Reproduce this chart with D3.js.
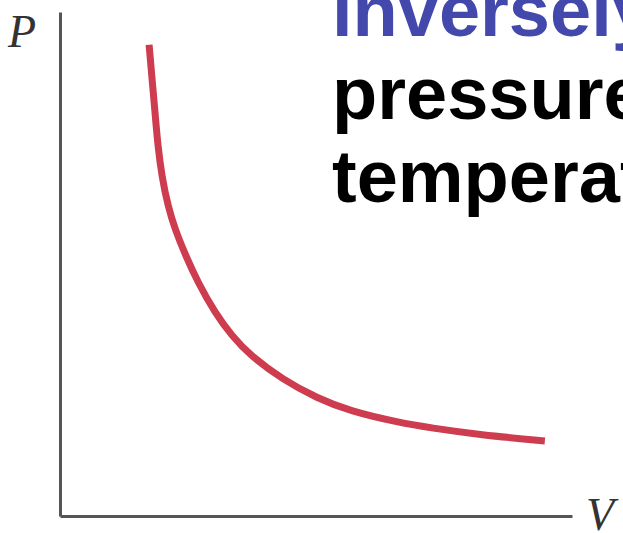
<!DOCTYPE html>
<html>
<head>
<meta charset="utf-8">
<script src="https://cdn.jsdelivr.net/npm/d3@7"></script>
<style>
  html, body { margin: 0; padding: 0; background: #fff; overflow: hidden; }
  svg { display: block; }
</style>
</head>
<body>
<svg width="623" height="533"></svg>
<script>
// curve (arbitrary V and P units)
var volume   = [1.74, 1.80, 1.86, 1.91, 1.99, 2.11, 2.25, 2.44, 2.70, 3.03, 3.36, 3.71, 4.36, 5.02, 5.66, 6.64, 7.23, 8.20, 9.47];
var pressure = [9.35, 8.65, 7.96, 7.36, 6.73, 6.14, 5.68, 5.20, 4.62, 4.03, 3.57, 3.19, 2.70, 2.34, 2.08, 1.85, 1.75, 1.61, 1.49];
var headingLines = ["inversely proportional to", "pressure at constant", "temperature"];
var headingColors = ["#4349ac", "#000", "#000"];

var svg = d3.select("svg"),
    width = +svg.attr("width"),
    height = +svg.attr("height");

var x = d3.scaleLinear().domain([0, 10]).range([60, 572]);
var y = d3.scaleLinear().domain([0, 10]).range([516, 12]);

var points = volume.map(function (v, i) { return [v, pressure[i]]; });

// axes, no ticks, just the lines
svg.append("g")
    .attr("transform", "translate(" + x(0) + ",0)")
    .call(d3.axisLeft(y).ticks(0).tickSizeOuter(0))
    .select(".domain")
    .attr("stroke", "#555")
    .attr("stroke-width", 3);

svg.append("g")
    .attr("transform", "translate(0," + y(0) + ")")
    .call(d3.axisBottom(x).ticks(0).tickSizeOuter(0))
    .select(".domain")
    .attr("stroke", "#555")
    .attr("stroke-width", 3);

svg.append("text")
    .attr("x", 8)
    .attr("y", 47)
    .attr("font-family", "Liberation Serif, serif")
    .attr("font-style", "italic")
    .attr("font-size", 46)
    .attr("fill", "#333")
    .text("P");

svg.append("text")
    .attr("x", 586)
    .attr("y", 530)
    .attr("font-family", "Liberation Serif, serif")
    .attr("font-style", "italic")
    .attr("font-size", 46)
    .attr("fill", "#333")
    .text("V");

var line = d3.line()
    .x(function (d) { return x(d[0]); })
    .y(function (d) { return y(d[1]); })
    .curve(d3.curveBasis);

svg.append("path")
    .datum(points)
    .attr("d", line)
    .attr("fill", "none")
    .attr("stroke", "#cd3c4f")
    .attr("stroke-width", 7);

// heading text, runs off the right edge like in the slide
svg.append("g")
    .selectAll("text")
    .data(headingLines)
    .enter().append("text")
    .attr("x", 332)
    .attr("y", function (d, i) { return 36 + i * 83; })
    .attr("font-family", "Liberation Sans, Arial, sans-serif")
    .attr("font-weight", "bold")
    .attr("font-size", 74)
    .attr("fill", function (d, i) { return headingColors[i]; })
    .text(function (d) { return d; });
</script>
</body>
</html>
